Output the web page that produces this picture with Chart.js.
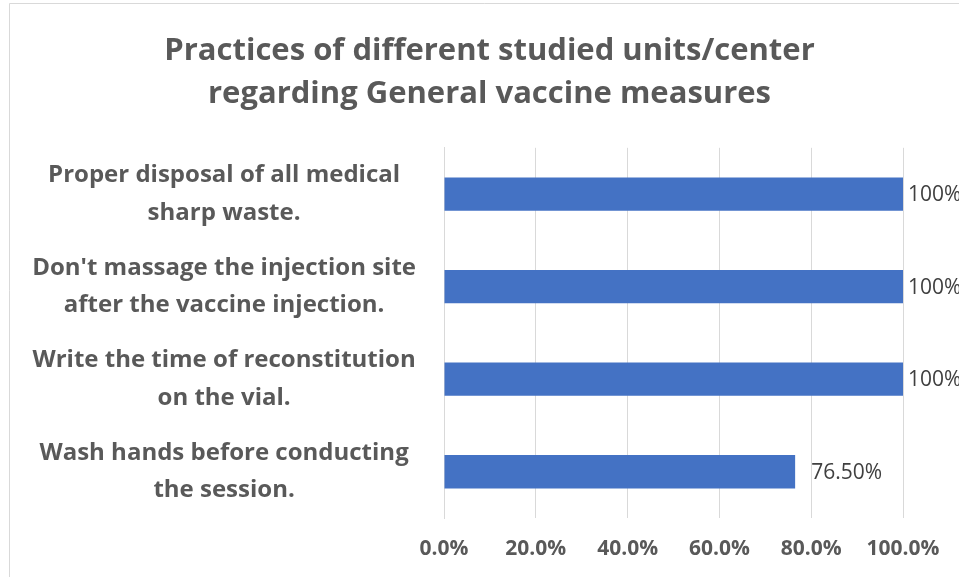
<!DOCTYPE html>
<html>
<head>
<meta charset="utf-8">
<script src="https://cdn.jsdelivr.net/npm/chart.js@4"></script>
<style>
  html, body { margin: 0; padding: 0; background: #ffffff; overflow: hidden; }
  #wrap { position: relative; width: 959px; height: 577px; }
  canvas { display: block; }
</style>
</head>
<body>
<div id="wrap"><canvas id="c" width="959" height="577"></canvas></div>
<script>
const titleLines = ["Practices of different studied units/center", "regarding General vaccine measures"];
const categories = [
  ["Proper disposal of all medical", "sharp waste."],
  ["Don't massage the injection site", "after the vaccine injection."],
  ["Write the time of reconstitution", "on the vial."],
  ["Wash hands before conducting", "the session."]
];
const values = [100, 100, 100, 76.5];
const valueLabels = ["100%", "100%", "100%", "76.50%"];
const xTicks = [0, 20, 40, 60, 80, 100];

const FONT = "'Open Sans', sans-serif";
const GREY = "#595959";
const labelGaps = [5, 5, 5, 16];

const borderPlugin = {
  id: 'frame',
  beforeDraw(chart) {
    const ctx = chart.ctx;
    ctx.save();
    ctx.fillStyle = '#ffffff';
    ctx.fillRect(0, 0, chart.width, chart.height);
    ctx.strokeStyle = '#d9d9d9';
    ctx.lineWidth = 1;
    ctx.beginPath();
    ctx.moveTo(9.5, chart.height);
    ctx.lineTo(9.5, 3.5);
    ctx.lineTo(chart.width, 3.5);
    ctx.stroke();
    ctx.restore();
  }
};

const labelPlugin = {
  id: 'valueLabels',
  afterDatasetsDraw(chart) {
    const ctx = chart.ctx;
    const meta = chart.getDatasetMeta(0);
    ctx.save();
    ctx.font = "21px " + FONT;
    ctx.fillStyle = "#404040";
    ctx.textAlign = "left";
    ctx.textBaseline = "middle";
    meta.data.forEach((bar, i) => {
      ctx.fillText(valueLabels[i], bar.x + labelGaps[i], bar.y + 1);
    });
    ctx.restore();
  }
};

new Chart(document.getElementById('c'), {
  type: 'bar',
  data: {
    labels: categories,
    datasets: [{
      data: values,
      backgroundColor: '#4472C4',
      borderColor: '#4472C4',
      borderWidth: 0,
      barPercentage: 0.36,
      categoryPercentage: 1.0
    }]
  },
  options: {
    indexAxis: 'y',
    responsive: false,
    animation: false,
    layout: { padding: { left: 20, right: 0, top: 0, bottom: 0 } },
    plugins: {
      legend: { display: false },
      tooltip: { enabled: false },
      title: {
        display: true,
        text: titleLines,
        color: GREY,
        font: { family: FONT, size: 31, weight: 'bold', lineHeight: 1.4 },
        padding: { top: 29, bottom: 32 }
      }
    },
    scales: {
      x: {
        min: 0, max: 100,
        afterBuildTicks(scale) { scale.ticks = xTicks.map(v => ({ value: v })); },
        afterFit(scale) { scale.height = 59; scale.paddingLeft = 0; scale.paddingRight = 0; },
        grid: { color: '#d9d9d9', drawTicks: false },
        border: { display: false },
        ticks: {
          color: GREY,
          padding: 18,
          maxRotation: 0,
          font: { family: FONT, size: 21, weight: 'bold' },
          callback: v => v.toFixed(1) + '%'
        }
      },
      y: {
        grid: { display: false, drawTicks: false },
        border: { display: true, color: '#d9d9d9' },
        afterFit(scale) { scale.width = 424; scale.paddingTop = 0; scale.paddingBottom = 0; },
        ticks: {
          color: GREY,
          crossAlign: 'center',
          padding: 28,
          font: { family: FONT, size: 24, weight: 'bold', lineHeight: 1.55 }
        }
      },
      y2: {
        position: 'right',
        type: 'category',
        display: true,
        grid: { display: false, drawTicks: false },
        border: { display: false },
        ticks: { display: false },
        afterFit(scale) { scale.width = 56; scale.paddingTop = 0; scale.paddingBottom = 0; }
      }
    }
  },
  plugins: [borderPlugin, labelPlugin]
});
</script>
</body>
</html>
